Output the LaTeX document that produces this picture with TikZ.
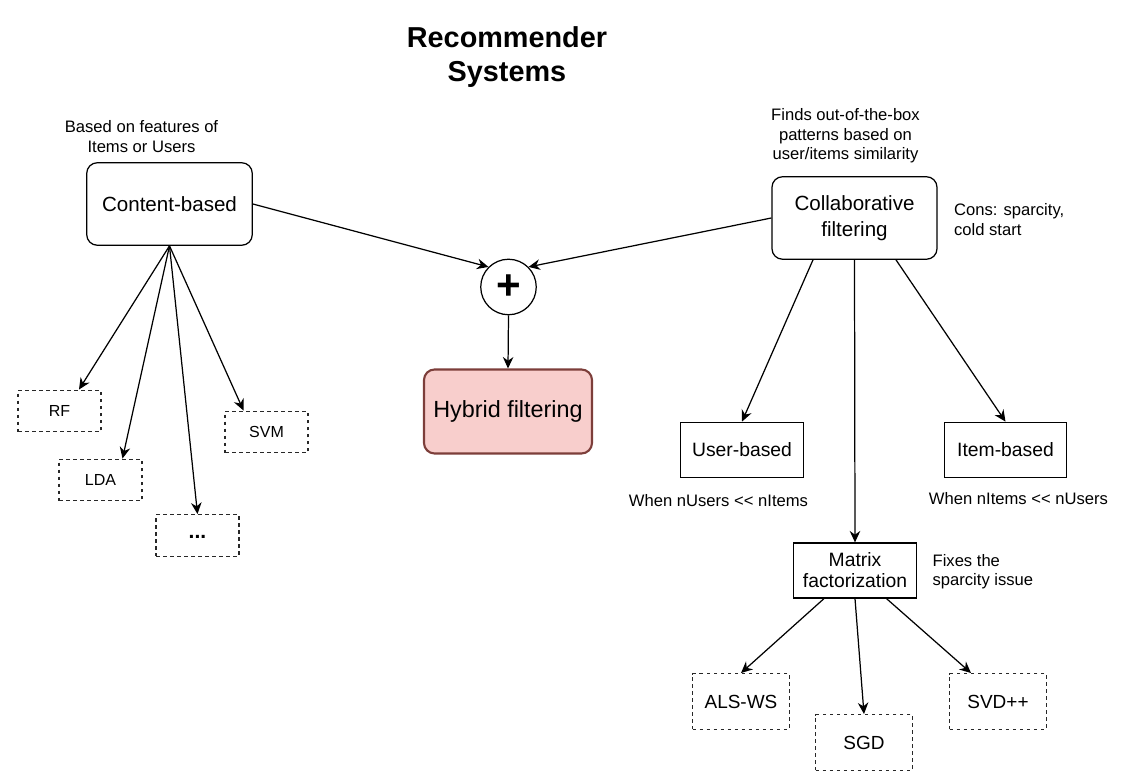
\documentclass[tikz,border=0pt]{standalone}
\usepackage{fontspec}
\setmainfont{Liberation Sans}
\usetikzlibrary{arrows.meta}
\definecolor{hybridfill}{HTML}{F8CECC}
\definecolor{hybridline}{RGB}{125,62,58}
\definecolor{dashgray}{RGB}{40,40,40}

\tikzset{
  mainbox/.style={draw, rounded corners=6pt, inner sep=0pt, align=center,
    minimum width=3.31cm, minimum height=1.65cm,
    font=\fontsize{11.7}{14.6}\selectfont},
  subbox/.style={draw, inner sep=0pt, align=center,
    minimum width=2.46cm, minimum height=1.11cm,
    font=\fontsize{11}{12}\selectfont},
  algobox/.style={draw=dashgray, line width=0.8pt, dash pattern=on 2pt off 2pt, inner sep=0pt,
    minimum width=1.94cm, minimum height=1.11cm,
    font=\fontsize{10.8}{12}\selectfont},
  smallalgo/.style={algobox, minimum width=1.66cm, minimum height=0.83cm,
    font=\fontsize{9.1}{11}\selectfont},
  note/.style={align=center, inner sep=0pt, font=\fontsize{9.45}{11.1}\selectfont},
}

\begin{document}
\begin{tikzpicture}[>={Stealth[length=6.5pt,width=6pt]}, line width=0.7pt]
  \useasboundingbox (0,0) rectangle (22.68,15.68);
  % title
  \node[align=center, font=\bfseries\fontsize{16.4}{19.4}\selectfont] at(10.14,14.54)(title){Recommender\\Systems};
  % notes
  \node[note] at(2.83,12.95)(basednote){Based on features of\\Items or Users};
  \node[note] at(16.91,12.96)(findsnote){Finds out-of-the-box\\patterns based on\\user/items similarity};
  \node[note, anchor=west, align=left] at(19.07,11.29)(consnote){Cons: sparcity,\\cold start};
  \node[note] at(14.37,5.66)(usernote){When nUsers {<}{<} nItems};
  \node[note] at(20.37,5.70)(itemnote){When nItems {<}{<} nUsers};
  \node[note, anchor=west, align=left] at(18.64,4.25)(fixesnote){Fixes the\\sparcity issue};
  % main boxes
  \node[mainbox] at(3.39,11.60)(content){Content-based};
  \node[mainbox, minimum width=3.30cm] at(17.09,11.32)(collab){Collaborative\\filtering};
  \node[draw, circle, inner sep=0pt, minimum size=1.11cm,
    font=\bfseries\fontsize{24}{24}\selectfont] at(10.17,9.94)(plus){+};
  \node[mainbox, draw=hybridline, fill=hybridfill, line width=1.2pt,
    minimum width=3.36cm, minimum height=1.68cm,
    font=\fontsize{13.3}{15}\selectfont] at(10.16,7.45)(hybrid){Hybrid filtering};
  % collaborative branches
  \node[subbox] at(14.84,6.68)(user){User-based};
  \node[subbox, minimum width=2.45cm] at(20.11,6.68)(item){Item-based};
  \node[subbox, minimum height=1.10cm] at(17.10,4.27)(matrix){Matrix\\factorization};
  % algorithms
  \node[algobox] at(14.82,1.65)(als){ALS-WS};
  \node[algobox] at(17.28,0.83)(sgd){SGD};
  \node[algobox] at(19.96,1.65)(svd){SVD++};
  \node[smallalgo] at(1.19,7.46)(rf){RF};
  \node[smallalgo] at(2.01,6.08)(lda){LDA};
  \node[smallalgo, font=\bfseries\fontsize{12}{12}\selectfont] at(3.95,4.97)(dots){\raisebox{-0.12cm}{...}};
  \node[smallalgo] at(5.33,7.04)(svm){SVM};
  % arrows
  \draw[->] (content.east) -- (plus.north west);
  \draw[->] (collab.west) -- (plus.north east);
  \draw[->] (plus.south) -- (hybrid.north);
  \draw[->] (content.south) -- ([xshift=0.39cm]rf.north);
  \draw[->] (content.south) -- ([xshift=0.44cm]lda.north);
  \draw[->] (content.south) -- (dots.north);
  \draw[->] (content.south) -- ([xshift=-0.46cm]svm.north);
  \draw[->] ([xshift=-0.83cm]collab.south) -- (user.north);
  \draw[->] (collab.south) -- (matrix.north);
  \draw[->] ([xshift=0.83cm]collab.south) -- (item.north);
  \draw[->] ([xshift=-0.62cm]matrix.south) -- (als.north);
  \draw[->] (matrix.south) -- (sgd.north);
  \draw[->] ([xshift=0.63cm]matrix.south) -- ([xshift=-0.54cm]svd.north);
\end{tikzpicture}
\end{document}
